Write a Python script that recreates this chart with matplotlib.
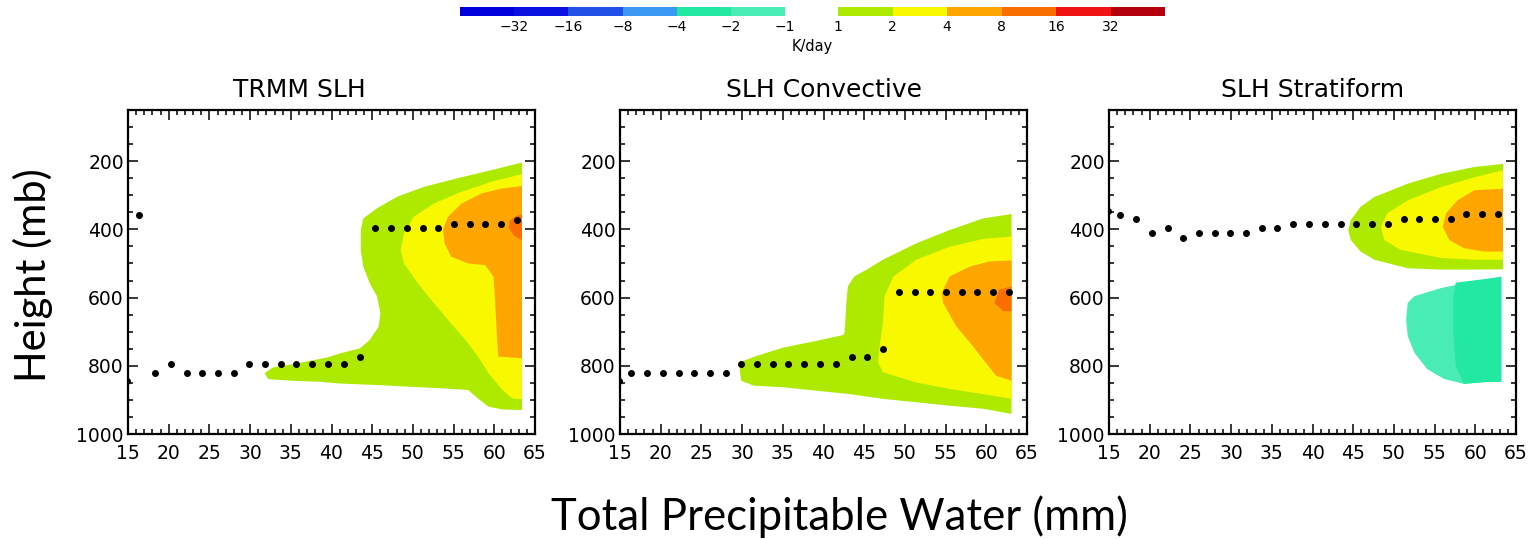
import matplotlib
matplotlib.use("Agg")
import matplotlib.pyplot as plt
from matplotlib.colors import ListedColormap
from matplotlib.ticker import MultipleLocator
import numpy as np

# ---------------- data ----------------
panel_titles = ["TRMM SLH", "SLH Convective", "SLH Stratiform"]

cbar_neg_labels = ["-32", "-16", "-8", "-4", "-2", "-1"]
cbar_pos_labels = ["1", "2", "4", "8", "16", "32"]
cbar_neg_colors = ["#0000dc", "#0a10e0", "#2050e6", "#3c98f0", "#22e8a2", "#4aecb6"]
cbar_pos_colors = ["#aeea00", "#f8f800", "#ffa500", "#fa6e00", "#f01414", "#b4000c"]

# TPW bin centres (mm) of the dots
tpw_bins = [14.9, 16.35, 18.3, 20.25, 22.2, 24.1, 26.05, 28.0, 29.9, 31.85,
            33.8, 35.7, 37.65, 39.6, 41.5, 43.45, 45.4, 47.3, 49.25, 51.2,
            53.1, 55.05, 57.0, 58.9, 60.85, 62.8]

# pressure level of maximum heating (mb) per TPW bin
peak_trmm = [846, 358, 820, 795, 820, 820, 820, 820, 795, 795, 795, 795, 795,
             795, 795, 773, 397, 397, 397, 397, 397, 385, 385, 385, 385, 373]
peak_conv = [844, 821, 821, 821, 821, 821, 821, 821, 795, 795, 795, 795, 795,
             795, 795, 773, 773, 750, 585, 585, 585, 585, 585, 585, 585, 585]
peak_strat = [346, 358, 370, 412, 395, 424, 412, 412, 412, 412, 397, 397, 385,
              385, 385, 385, 385, 385, 385, 370, 370, 370, 370, 356, 356, 356]

# heating contour regions: (level K/day, TPW outline, pressure outline)
trmm_ge1_tpw = [63.4, 59.7, 55.5, 51.4, 48.1, 45.6, 43.9, 43.6, 43.6, 43.9, 44.7,
                45.6, 46.0, 45.8, 44.7, 43.5, 41.0, 39.4, 35.3, 32.8, 31.8, 32.2,
                35.3, 38.6, 41.0, 45.2, 49.3, 53.5, 56.8, 58.0, 59.3, 61.0, 63.4]
trmm_ge1_p = [204, 226, 250, 275, 304, 338, 368, 402, 461, 509, 558,
              597, 646, 685, 724, 749, 764, 776, 795, 805, 821, 839,
              844, 847, 852, 856, 861, 866, 871, 896, 920, 928, 930]
trmm_ge2_tpw = [63.4, 59.7, 55.5, 52.6, 50.1, 48.9, 48.5, 48.9, 50.6, 52.6, 54.7,
                56.8, 58.0, 59.3, 61.0, 62.2, 63.4]
trmm_ge2_p = [238, 260, 294, 324, 363, 412, 461, 500, 558, 617, 676,
              734, 773, 822, 871, 896, 898]
trmm_ge4_tpw = [63.4, 61.0, 58.5, 56.0, 54.3, 53.7, 53.9, 54.7, 56.8, 58.9, 59.9,
                60.1, 60.3, 60.5, 63.4]
trmm_ge4_p = [273, 280, 294, 324, 363, 402, 441, 480, 500, 505, 539,
              607, 705, 773, 778]
trmm_ge8_tpw = [63.4, 62.6, 61.9, 61.8, 62.4, 63.4]
trmm_ge8_p = [356, 362, 375, 395, 418, 432]

conv_ge1_tpw = [63.1, 59.6, 55.5, 51.4, 47.3, 45.3, 43.8, 43.0, 42.8, 42.6, 42.4,
                39.1, 35.0, 31.8, 30.1, 29.7, 29.9, 31.4, 35.0, 39.1, 43.2, 47.3,
                51.4, 55.5, 59.6, 63.1]
conv_ge1_p = [355, 368, 402, 441, 489, 518, 538, 567, 616, 703, 710,
              727, 747, 771, 786, 810, 844, 858, 863, 873, 883, 897,
              907, 917, 926, 941]
conv_ge2_tpw = [63.1, 59.6, 55.5, 51.4, 48.6, 47.5, 47.3, 46.9, 46.7, 47.3, 51.4,
                55.5, 59.6, 63.1]
conv_ge2_p = [421, 428, 451, 489, 538, 596, 674, 742, 790, 819, 849,
              868, 883, 897]
conv_ge4_tpw = [63.1, 60.4, 58.0, 55.5, 54.5, 54.7, 56.3, 58.0, 59.6, 61.2, 63.1]
conv_ge4_p = [491, 494, 509, 538, 586, 616, 684, 732, 781, 829, 844]
conv_ge8_tpw = [63.1, 61.6, 61.0, 62.1, 63.1]
conv_ge8_p = [567, 577, 616, 640, 640]

strat_ge1_tpw = [63.4, 59.9, 55.8, 51.7, 47.6, 45.9, 44.7, 44.4, 44.7, 45.9, 47.6,
                 51.7, 55.8, 59.9, 63.4]
strat_ge1_p = [208, 217, 237, 266, 305, 334, 373, 402, 431, 465, 489,
               514, 518, 518, 517]
strat_ge2_tpw = [63.4, 59.9, 55.8, 51.7, 49.2, 48.4, 48.8, 50.8, 55.8, 59.9, 63.4]
strat_ge2_p = [227, 247, 276, 315, 353, 392, 431, 460, 484, 489, 489]
strat_ge4_tpw = [63.4, 59.9, 57.8, 56.4, 56.0, 56.8, 58.6, 61.1, 63.4]
strat_ge4_p = [281, 285, 315, 353, 392, 431, 455, 465, 465]
strat_le1_tpw = [63.2, 59.9, 55.8, 52.5, 51.7, 51.5, 51.7, 52.5, 54.1, 56.2, 58.6,
                 61.1, 63.2]
strat_le1_p = [538, 552, 572, 596, 616, 664, 713, 761, 810, 839, 853, 848, 847]
strat_le2_tpw = [63.2, 57.6, 57.3, 57.3, 57.6, 58.6, 61.1, 63.2]
strat_le2_p = [540, 556, 600, 700, 800, 853, 848, 847]

panel_regions = [
    [(1, trmm_ge1_tpw, trmm_ge1_p), (2, trmm_ge2_tpw, trmm_ge2_p),
     (4, trmm_ge4_tpw, trmm_ge4_p), (8, trmm_ge8_tpw, trmm_ge8_p)],
    [(1, conv_ge1_tpw, conv_ge1_p), (2, conv_ge2_tpw, conv_ge2_p),
     (4, conv_ge4_tpw, conv_ge4_p), (8, conv_ge8_tpw, conv_ge8_p)],
    [(1, strat_ge1_tpw, strat_ge1_p), (2, strat_ge2_tpw, strat_ge2_p),
     (4, strat_ge4_tpw, strat_ge4_p), (-1, strat_le1_tpw, strat_le1_p),
     (-2, strat_le2_tpw, strat_le2_p)],
]
panel_peaks = [peak_trmm, peak_conv, peak_strat]

level_color = {1: cbar_pos_colors[0], 2: cbar_pos_colors[1], 4: cbar_pos_colors[2],
               8: cbar_pos_colors[3], 16: cbar_pos_colors[4],
               -1: cbar_neg_colors[5], -2: cbar_neg_colors[4]}

# ---------------- figure ----------------
W, H = 1529, 539
fig = plt.figure(figsize=(W / 100, H / 100), dpi=100)
fig.patch.set_facecolor("white")

def fx(px):
    return px / W

def fy(py):
    return 1 - py / H

ax_left = [128, 620, 1109]
ax_w = 407
ax_top, ax_bot = 110, 434
title_xfrac = [0.42, 0.5, 0.5]

for i in range(3):
    ax = fig.add_axes([fx(ax_left[i]), fy(ax_bot), ax_w / W, (ax_bot - ax_top) / H])
    for lev, xs, ps in panel_regions[i]:
        ax.fill(xs, ps, color=level_color[lev], lw=0, zorder=1)
    ax.plot(tpw_bins, panel_peaks[i], "o", color="black", ms=4.0, zorder=3,
            clip_on=True)
    ax.set_xlim(15, 65)
    ax.set_ylim(1000, 50)
    ax.xaxis.set_major_locator(MultipleLocator(5))
    ax.xaxis.set_minor_locator(MultipleLocator(1))
    ax.set_yticks([200, 400, 600, 800, 1000])
    ax.yaxis.set_minor_locator(MultipleLocator(50))
    ax.tick_params(which="both", direction="in", top=True, right=True,
                   width=1.1, color="black")
    ax.tick_params(which="major", length=7)
    ax.tick_params(which="minor", length=3.5)
    ax.tick_params(axis="x", which="major", labelsize=13.5, pad=7)
    ax.tick_params(axis="y", which="major", labelsize=13.5, pad=3)
    for s in ax.spines.values():
        s.set_linewidth(1.6)
    ax.text(title_xfrac[i], 1.025, panel_titles[i], transform=ax.transAxes,
            ha="center", va="bottom", fontsize=18)

# ---------------- colorbar ----------------
cb_y0, cb_y1 = 7, 16
ax_n = fig.add_axes([fx(460), fy(cb_y1), 325 / W, (cb_y1 - cb_y0) / H])
ax_n.pcolormesh(np.arange(7), [0, 1], np.arange(6).reshape(1, 6),
                cmap=ListedColormap(cbar_neg_colors), vmin=-0.5, vmax=5.5)
ax_p = fig.add_axes([fx(838), fy(cb_y1), 327 / W, (cb_y1 - cb_y0) / H])
ax_p.pcolormesh(np.arange(7), [0, 1], np.arange(6).reshape(1, 6),
                cmap=ListedColormap(cbar_pos_colors), vmin=-0.5, vmax=5.5)
for a in (ax_n, ax_p):
    a.set_yticks([])
    for s in a.spines.values():
        s.set_visible(False)
    a.tick_params(axis="x", length=0, labelsize=10, pad=3)
ax_n.set_xlim(0, 6)
ax_p.set_xlim(0, 6)
ax_n.set_xticks(np.arange(1, 7))
ax_n.set_xticklabels([l.replace("-", "\u2212") for l in cbar_neg_labels])
ax_p.set_xticks(np.arange(0, 6))
ax_p.set_xticklabels(cbar_pos_labels)
fig.text(fx(812), fy(47), "K/day", ha="center", va="center", fontsize=10.5)

# ---------------- axis labels ----------------
fig.text(fx(33), fy(275), "Height (mb)", rotation=90, ha="center", va="center",
         fontsize=30, family="Lato")
fig.text(fx(839), fy(517), "Total Precipitable Water (mm)", ha="center",
         va="center", fontsize=31.5, family="Lato")

fig.savefig("out.png", dpi=100, facecolor="white")
